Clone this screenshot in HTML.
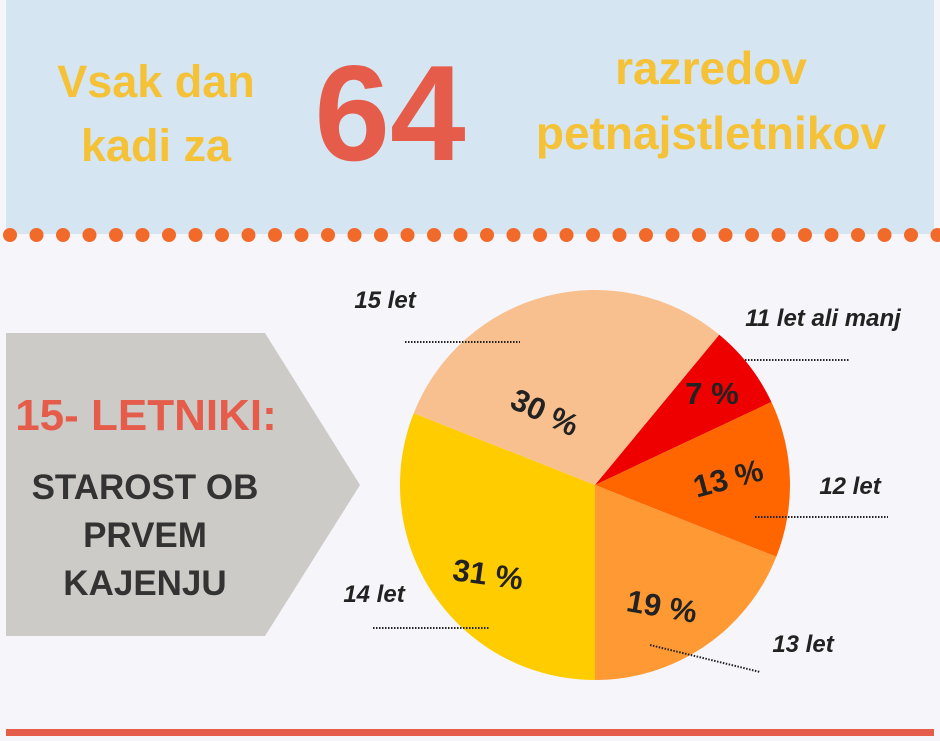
<!DOCTYPE html>
<html><head><meta charset="utf-8"><style>
body{margin:0;width:940px;height:736px;overflow:hidden;background:#f6f5fa;font-family:"Liberation Sans",sans-serif}
</style></head><body>
<svg width="940" height="736" viewBox="0 0 940 736">
<rect x="0" y="0" width="940" height="736" fill="#f6f5fa"/>
<rect x="6" y="0" width="928" height="234" fill="#d5e5f1"/>
<g id="dots"></g>
<text x="156" y="97" text-anchor="middle" font-size="45" font-weight="bold" fill="#f5c136">Vsak dan</text>
<text x="156" y="161" text-anchor="middle" font-size="45" font-weight="bold" fill="#f5c136">kadi za</text>
<text x="390" y="160" text-anchor="middle" font-size="136" font-weight="bold" fill="#e65c4b">64</text>
<text x="711" y="84" text-anchor="middle" font-size="46" font-weight="bold" fill="#f5c136">razredov</text>
<text x="711" y="149" text-anchor="middle" font-size="46" font-weight="bold" fill="#f5c136">petnajstletnikov</text>
<polygon points="6,333 265,333 360,485 265,636 6,636" fill="#cccbc7"/>
<text x="146" y="430" text-anchor="middle" font-size="44" font-weight="bold" fill="#e65c4b">15- LETNIKI:</text>
<text x="145" y="499" text-anchor="middle" font-size="35" font-weight="bold" fill="#333">STAROST OB</text>
<text x="145" y="547" text-anchor="middle" font-size="35" font-weight="bold" fill="#333">PRVEM</text>
<text x="145" y="595" text-anchor="middle" font-size="35" font-weight="bold" fill="#333">KAJENJU</text>
<g id="pie"></g>
<rect x="6" y="729" width="928" height="7" fill="#e65c4b"/>
</svg>
<script>
const categories=["14 let","15 let","11 let ali manj","12 let","13 let"];
const values=[31,30,7,13,19];
const valueLabels=["31 %","30 %","7 %","13 %","19 %"];
const colors=["#ffcc00","#f7c08e","#ee0000","#ff6600","#ff9933"];
const NS="http://www.w3.org/2000/svg";
const dots=document.getElementById('dots');
for(let i=0;i<36;i++){
  const c=document.createElementNS(NS,'circle');
  c.setAttribute('cx',10+i*26.5);c.setAttribute('cy',235);c.setAttribute('r',7);c.setAttribute('fill','#f26a2a');
  
  
  dots.appendChild(c);
}
const pie=document.getElementById('pie');
const cx=595,cy=485,r=195;
const total=values.reduce((a,b)=>a+b,0);
const pt=(a,rr)=>[cx+rr*Math.sin(a*Math.PI/180),cy-rr*Math.cos(a*Math.PI/180)];
let ang=180;
const labelRot=[8,25,0,-15,10];
const labelPos=[[488,574],[545,412],[712,393],[728,478],[662,606]];
values.forEach((v,i)=>{
  const sweep=v/total*360;
  const [x1,y1]=pt(ang,r),[x2,y2]=pt(ang+sweep,r);
  const p=document.createElementNS(NS,'path');
  p.setAttribute('d',`M${cx},${cy} L${x1},${y1} A${r},${r} 0 ${sweep>180?1:0} 1 ${x2},${y2} Z`);
  p.setAttribute('fill',colors[i]);
  
  
  pie.appendChild(p);
  const [lx,ly]=labelPos[i];
  const t=document.createElementNS(NS,'text');
  t.setAttribute('x',lx);t.setAttribute('y',ly+11);
  t.setAttribute('text-anchor','middle');t.setAttribute('font-size','31');t.setAttribute('font-weight','bold');t.setAttribute('fill','#222');
  t.setAttribute('transform',`rotate(${labelRot[i]} ${lx} ${ly})`);
  t.textContent=valueLabels[i];
  
  
  pie.appendChild(t);
  ang+=sweep;
});
const cats=[["14 let",374,602,373,628,490,628],["15 let",385,308,405,342,520,342],["11 let ali manj",823,326,745,360,850,360],["12 let",850,494,755,517,888,517],["13 let",803,652,650,645,760,672]];
cats.forEach(c=>{
  const t=document.createElementNS(NS,'text');
  t.setAttribute('x',c[1]);t.setAttribute('y',c[2]);t.setAttribute('text-anchor','middle');
  t.setAttribute('font-size','24');t.setAttribute('font-weight','bold');t.setAttribute('font-style','italic');t.setAttribute('fill','#222');
  t.textContent=c[0];
  
  
  pie.appendChild(t);
  const l=document.createElementNS(NS,'line');
  l.setAttribute('x1',c[3]);l.setAttribute('y1',c[4]);l.setAttribute('x2',c[5]);l.setAttribute('y2',c[6]);
  l.setAttribute('stroke','#222');l.setAttribute('stroke-width','2');l.setAttribute('stroke-dasharray','1.5 1.5');
  
  
  pie.appendChild(l);
});
</script>
</body></html>
